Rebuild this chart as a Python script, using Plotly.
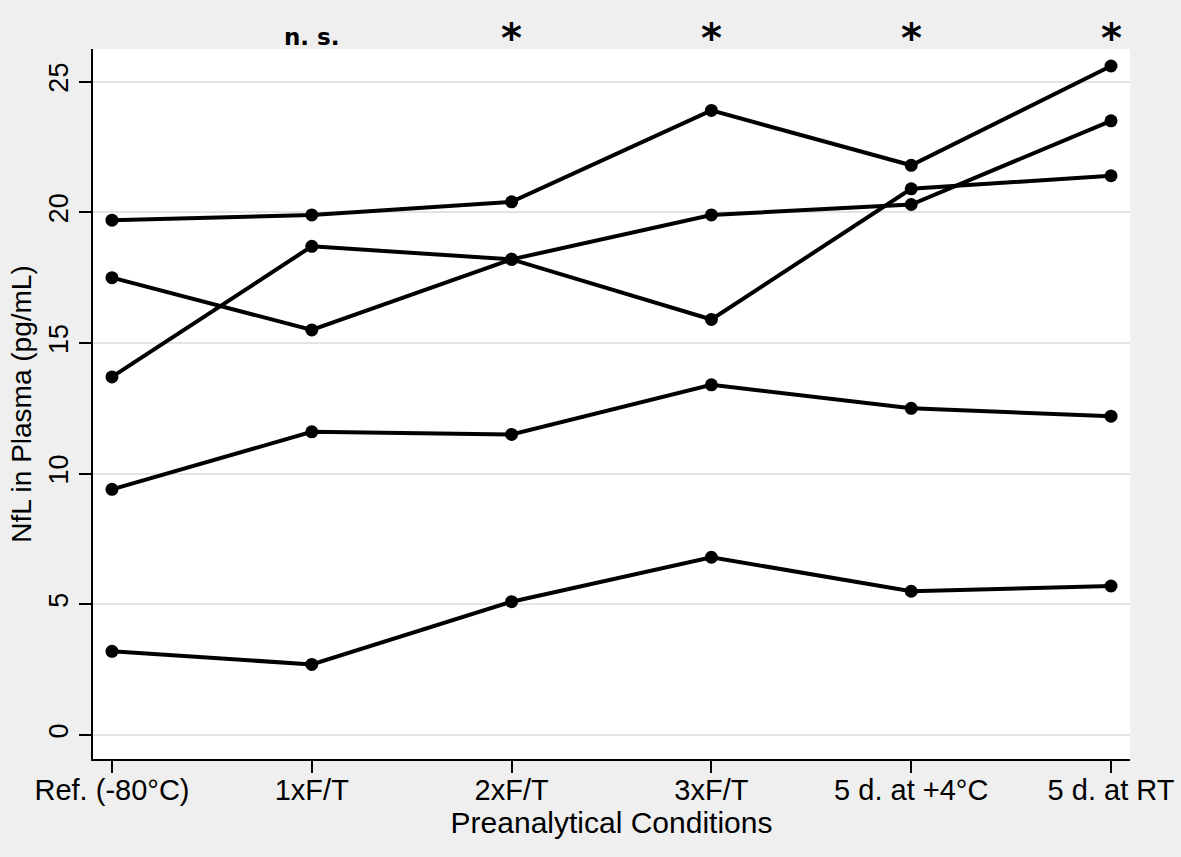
import plotly.graph_objects as go

conditions = ["Ref. (-80°C)", "1xF/T", "2xF/T", "3xF/T", "5 d. at +4°C", "5 d. at RT"]
significance = ["", "n. s.", "*", "*", "*", "*"]

sample_1 = [19.7, 19.9, 20.4, 23.9, 21.8, 25.6]
sample_2 = [17.5, 15.5, 18.2, 19.9, 20.3, 23.5]
sample_3 = [13.7, 18.7, 18.2, 15.9, 20.9, 21.4]
sample_4 = [9.4, 11.6, 11.5, 13.4, 12.5, 12.2]
sample_5 = [3.2, 2.7, 5.1, 6.8, 5.5, 5.7]

samples = [sample_1, sample_2, sample_3, sample_4, sample_5]
x_idx = list(range(len(conditions)))

FONT = "Liberation Sans, Arial, sans-serif"

fig = go.Figure()
for s in samples:
    fig.add_trace(go.Scatter(
        x=x_idx, y=s, mode="lines+markers",
        line=dict(color="black", width=4),
        marker=dict(color="black", size=13),
        showlegend=False,
    ))

# significance marks above each condition
for i, lab in enumerate(significance):
    if not lab:
        continue
    if lab == "*":
        fig.add_annotation(
            x=i, y=1.0, xref="x", yref="paper", yanchor="middle", yshift=11,
            text="<b>*</b>", showarrow=False,
            font=dict(family="DejaVu Sans", size=40, color="black"),
        )
    else:
        fig.add_annotation(
            x=i, y=1.0, xref="x", yref="paper", yanchor="middle", yshift=12,
            text="<b>" + lab + "</b>", showarrow=False,
            font=dict(family="DejaVu Sans", size=23, color="black"),
        )

fig.update_layout(
    width=1181, height=857,
    paper_bgcolor="#efefef", plot_bgcolor="white",
    margin=dict(l=93, r=51, t=49, b=98),
    font=dict(family=FONT, size=28, color="black"),
)
fig.update_xaxes(
    tickvals=x_idx, ticktext=conditions, range=[-0.095, 5.095],
    showgrid=False, zeroline=False, automargin=False,
    showline=True, linecolor="black", linewidth=2,
    ticks="outside", ticklen=12, tickwidth=2, tickcolor="black",
    tickfont=dict(size=29), ticklabelstandoff=-8,
    title=dict(text="Preanalytical Conditions", standoff=0, font=dict(size=30)),
)
fig.update_yaxes(
    tickvals=[0, 5, 10, 15, 20, 25], range=[-0.92, 26.25],
    showgrid=True, gridcolor="#e4e4e4", gridwidth=2, zeroline=False, automargin=False,
    showline=True, linecolor="black", linewidth=2,
    ticks="outside", ticklen=12, tickwidth=2, tickcolor="black",
    tickangle=-90, tickfont=dict(size=27),
    title=dict(text="NfL in Plasma (pg/mL)", standoff=4, font=dict(size=28)),
)

fig.write_html(
    "out.html",
    config={"displayModeBar": False},
    post_script="document.body.style.margin='0';document.body.style.background='#efefef';",
)
